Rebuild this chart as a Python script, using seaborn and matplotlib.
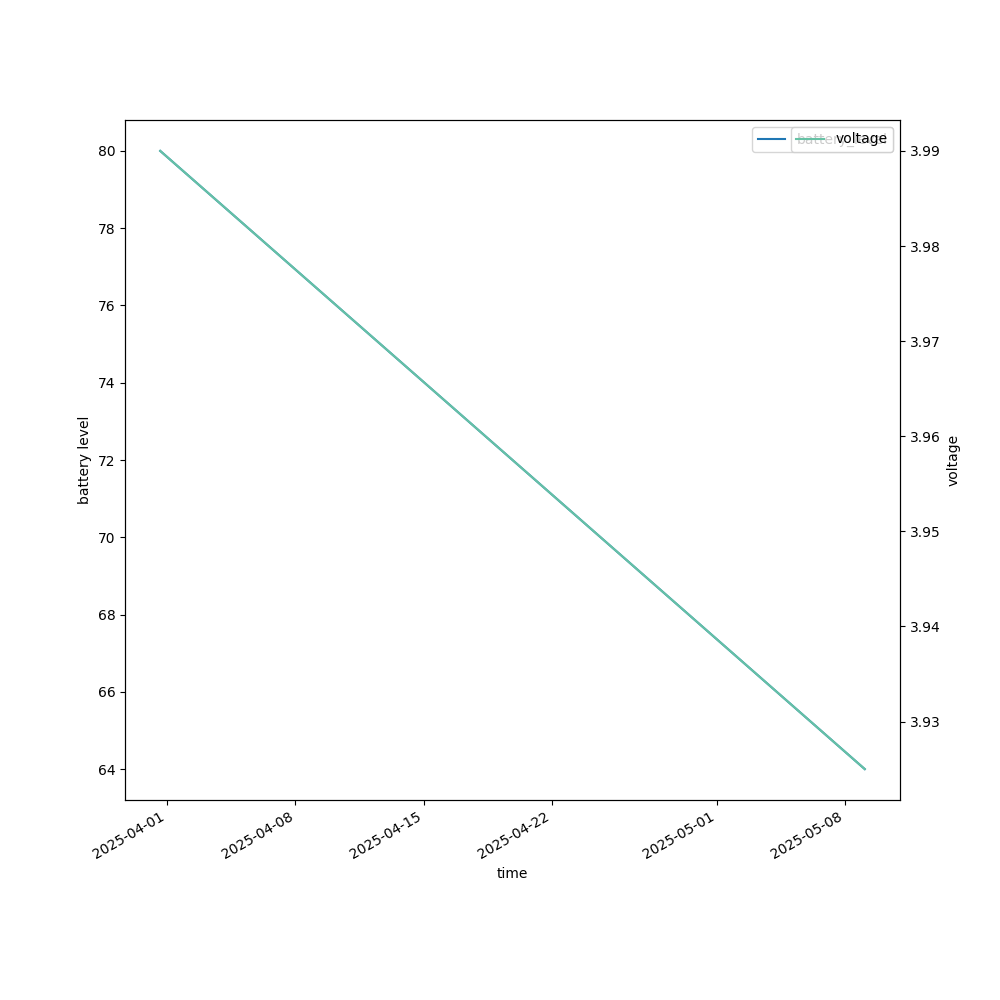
import matplotlib
matplotlib.use("Agg")
import matplotlib.pyplot as plt
import seaborn as sns
import pandas as pd

times = ["2025-03-31 15:00", "2025-05-09 02:00"]
battery_level = [80, 64]
voltage = [3.99, 3.925]

df = pd.DataFrame({"time": pd.to_datetime(times),
                   "battery_level": battery_level,
                   "voltage": voltage})

fig, ax = plt.subplots(figsize=(10, 10), dpi=100)
sns.lineplot(data=df, x="time", y="battery_level", ax=ax,
             color="#1f77b4", label="battery_level")
ax.set_ylabel("battery level")
ax.set_xlabel("time")
ax.legend(loc="upper right")

ax2 = ax.twinx()
sns.lineplot(data=df, x="time", y="voltage", ax=ax2,
             color=sns.color_palette("Set2")[0], label="voltage")
ax2.set_ylabel("voltage")
ax2.legend(loc="upper right")

fig.autofmt_xdate()
fig.savefig("out.png", dpi=100)
